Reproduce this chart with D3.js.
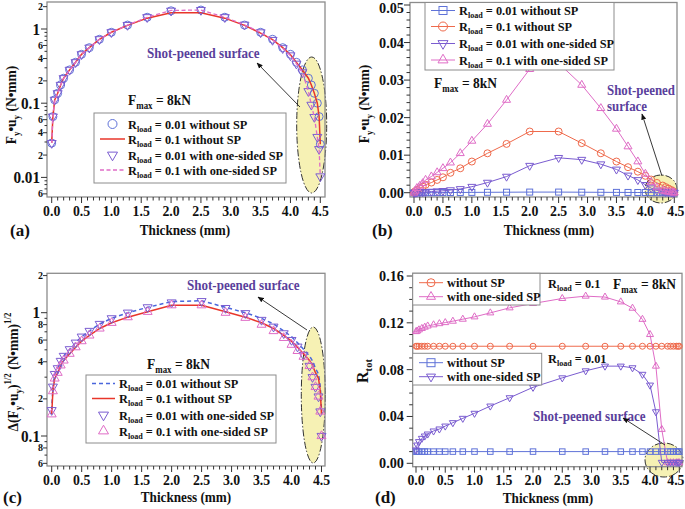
<!DOCTYPE html>
<html><head><meta charset="utf-8">
<script src="https://cdn.jsdelivr.net/npm/d3@7"></script>
<style>body{margin:0;background:#fff}svg{display:block}</style>
</head><body><svg id="c" width="685" height="509"></svg>
<script>
// ---------------- DATA ----------------
const thickness = [0,0.02,0.05,0.1,0.15,0.2,0.3,0.4,0.5,0.63,0.8,1.0,1.27,1.6,2.0,2.5,2.9,3.23,3.5,3.7,3.87,4.0,4.1,4.2,4.3,4.35,4.4,4.45,4.48,4.5];
const xTickLabels = ["0.0","0.5","1.0","1.5","2.0","2.5","3.0","3.5","4.0","4.5"];

// (a) Fy*uy, log scale
const aR001noSP = [0.029,0.066,0.111,0.136,0.176,0.217,0.281,0.356,0.456,0.56,0.727,0.903,1.13,1.44,1.76,1.80,1.44,1.13,0.903,0.727,0.56,0.456,0.356,0.281,0.217,0.176,0.136,0.100,0.066,0.028];
const aR01noSP  = [0.029,0.066,0.111,0.136,0.176,0.217,0.281,0.356,0.456,0.56,0.727,0.903,1.12,1.40,1.66,1.66,1.40,1.12,0.88,0.72,0.56,0.45,0.355,0.28,0.217,0.176,0.136,0.100,0.066,0.028];
const aR001SP   = [0.029,0.066,0.111,0.136,0.176,0.217,0.281,0.356,0.456,0.56,0.727,0.903,1.13,1.44,1.76,1.80,1.44,1.14,0.90,0.71,0.55,0.44,0.34,0.26,0.145,0.095,0.065,0.035,0.024,0.0103];
const aR01SP    = [0.029,0.066,0.111,0.136,0.176,0.217,0.281,0.356,0.456,0.56,0.727,0.903,1.13,1.44,1.78,1.80,1.44,1.14,0.90,0.71,0.55,0.44,0.34,0.26,0.145,0.095,0.065,0.035,0.024,0.0103];

// (b) Fy*uy, linear scale
const bR001noSP = [0,0.000002,0.000005,0.000009,0.000013,0.000017,0.000025,0.000033,0.000041,0.000052,0.000065,0.000083,0.000105,0.00013,0.000163,0.000163,0.000132,0.000105,0.000083,0.000067,0.000055,0.000045,0.000035,0.000026,0.000018,0.000014,0.00001,0.000005,0.000002,0];
const bR01noSP  = [0,0.0004,0.0007,0.0012,0.0016,0.0021,0.0027,0.0034,0.0041,0.0053,0.0065,0.0083,0.0105,0.013,0.0163,0.0163,0.0132,0.0105,0.0083,0.0068,0.0056,0.0045,0.0035,0.0026,0.0019,0.0015,0.0011,0.0007,0.0004,0];
const bR001SP   = [0,0.00002,0.00005,0.0001,0.00015,0.0002,0.0003,0.0004,0.0005,0.0007,0.001,0.0016,0.0027,0.0043,0.0072,0.0093,0.0088,0.0076,0.0062,0.0046,0.0034,0.0021,0.0012,0.0006,0.0003,0.0002,0.0001,0.00005,0.00002,0];
const bR01SP    = [0,0.0005,0.0012,0.0018,0.0025,0.0034,0.0043,0.0054,0.0065,0.008,0.0105,0.0138,0.0183,0.0247,0.0329,0.0345,0.0287,0.0225,0.017,0.0123,0.0083,0.005,0.0028,0.0014,0.0006,0.0004,0.0002,0.0001,0.00005,0];
const bTickLabels = ["0.00","0.01","0.02","0.03","0.04","0.05"];

// (c) delta(Fy*uy)^1/2, log scale
const cR001noSP = [0.162,0.251,0.318,0.354,0.406,0.446,0.505,0.571,0.639,0.711,0.81,0.90,1.0,1.105,1.23,1.25,1.105,1.0,0.90,0.81,0.711,0.639,0.571,0.505,0.446,0.406,0.354,0.318,0.251,0.162];
const cR01noSP  = [0.150,0.231,0.293,0.326,0.374,0.41,0.465,0.525,0.588,0.654,0.745,0.828,0.92,1.017,1.15,1.15,1.017,0.92,0.828,0.745,0.654,0.588,0.525,0.465,0.41,0.374,0.326,0.293,0.231,0.150];
const cR001SP   = [0.162,0.251,0.318,0.354,0.406,0.446,0.505,0.571,0.639,0.711,0.81,0.90,1.0,1.105,1.21,1.24,1.09,0.99,0.873,0.77,0.68,0.60,0.53,0.454,0.37,0.30,0.25,0.209,0.158,0.10];
const cR01SP    = [0.150,0.231,0.293,0.326,0.374,0.41,0.465,0.525,0.588,0.654,0.745,0.828,0.92,1.017,1.15,1.15,1.0,0.91,0.80,0.71,0.625,0.55,0.49,0.44,0.37,0.30,0.25,0.209,0.158,0.10];

// (d) R_tot, linear scale
const dR01noSP  = thickness.map(() => 0.1);
const dR001noSP = thickness.map(() => 0.01);
const dR01SP    = [0.1125,0.113,0.114,0.1152,0.1163,0.1173,0.1183,0.1193,0.1202,0.1214,0.1231,0.1251,0.1285,0.1328,0.1365,0.1408,0.1428,0.142,0.1379,0.1325,0.123,0.110,0.083,0.029,0.0005,0.0005,0.0005,0.0005,0.0005,0.0005];
const dR001SP   = [0.0114,0.0156,0.0185,0.0213,0.0233,0.025,0.0276,0.0293,0.0318,0.0347,0.0384,0.0427,0.0489,0.056,0.0649,0.073,0.079,0.083,0.083,0.0816,0.076,0.0668,0.044,0.0008,0.0008,0.0008,0.0008,0.0008,0.0008,0.0008];
const dTickLabels = ["0.00","0.04","0.08","0.12","0.16"];

// ---------------- STYLE ----------------
const FONT = '"Liberation Serif","Times New Roman",serif';
const C = {blue:"#5f72d8", red:"#e8362a", redM:"#ef6a4c", purple:"#7a5cd0", pink:"#df6cc6", annot:"#5a3f9c", frame:"#8c8c8c", tick:"#333"};
const LEG = 12.3;
const svg = d3.select("#c");
const defs = svg.append("defs");
defs.append("marker").attr("id","ah").attr("viewBox","0 0 10 10").attr("refX",9).attr("refY",5)
  .attr("markerWidth",7).attr("markerHeight",7).attr("orient","auto-start-reverse")
  .append("path").attr("d","M0,1L10,5L0,9Z").attr("fill","#111");

function rich(g, x, y, parts, o = {}) {
  const size = o.size || 14;
  const t = g.append("text")
    .attr("transform", `translate(${x},${y})${o.rot ? ` rotate(${o.rot})` : ""}${o.sx ? ` scale(${o.sx},1)` : ""}`)
    .attr("text-anchor", o.anchor || "start").attr("font-size", size)
    .attr("fill", o.fill || "#111").attr("font-weight", "bold").attr("font-family", FONT);
  let shift = 0;
  parts.forEach(p => {
    const [s, k] = Array.isArray(p) ? p : [p, "n"];
    const ts = t.append("tspan").text(s);
    const target = k === "sub" ? 0.28 : k === "sup" ? -0.45 : 0;
    const dy = (target - shift) * size;
    if (dy) ts.attr("dy", dy);
    shift = target;
    if (k !== "n") ts.attr("font-size", size * 0.66);
  });
  return t;
}
function triPath(s, down) {
  const h = s * 0.866;
  return down ? `M${-s/2},${-h/3}L${s/2},${-h/3}L0,${2*h/3}Z` : `M${-s/2},${h/3}L${s/2},${h/3}L0,${-2*h/3}Z`;
}
function marker(g, kind, cx, cy, s, color) {
  if (kind === "circle") g.append("circle").attr("cx",cx).attr("cy",cy).attr("r",s/2).attr("fill","none").attr("stroke",color).attr("stroke-width",1);
  else if (kind === "square") g.append("rect").attr("x",cx-s/2).attr("y",cy-s/2).attr("width",s).attr("height",s).attr("fill","none").attr("stroke",color).attr("stroke-width",1);
  else g.append("path").attr("transform",`translate(${cx},${cy})`).attr("d",triPath(s, kind==="down")).attr("fill","none").attr("stroke",color).attr("stroke-width",1);
}
function series(g, x, y, vals, o) {
  const pts = thickness.map((t, i) => [x(t), y(vals[i])]);
  if (o.line) g.append("path").attr("d", d3.line()(pts)).attr("fill","none").attr("stroke",o.lineColor||o.color)
      .attr("stroke-width",o.lw||1).attr("stroke-dasharray",o.dash||null);
  if (o.marker) pts.forEach(p => marker(g, o.marker, p[0], p[1], o.ms||7, o.color));
}
function frame(f) {
  svg.append("rect").attr("x",f.l).attr("y",f.t).attr("width",f.r-f.l).attr("height",f.b-f.t)
    .attr("fill","none").attr("stroke",C.frame).attr("stroke-width",1.3);
}
function xAxis(f, x, labY) {
  const g = svg.append("g");
  d3.range(0, 46).forEach(i => {
    const v = i / 10, major = i % 5 === 0;
    g.append("line").attr("x1",x(v)).attr("x2",x(v)).attr("y1",f.b).attr("y2",f.b+(major?6:3.5)).attr("stroke",C.tick).attr("stroke-width",1);
  });
  xTickLabels.forEach((lab, i) => {
    const px = x(i*0.5);
    if (px + 10 > 684) rich(g, 684.5, labY, [lab], {anchor:"end", size:15, sx:0.92});
    else rich(g, px, labY, [lab], {anchor:"middle", size:15, sx:0.92});
  });
}
function yLinAxis(f, y, majors, labels, minorStep, labX) {
  const g = svg.append("g");
  const lo = majors[0], hi = majors[majors.length-1];
  d3.range(Math.round((hi-lo)/minorStep)+1).forEach(i => {
    const v = lo + i*minorStep;
    const isMaj = majors.some(m => Math.abs(m - v) < minorStep/10);
    g.append("line").attr("x1",f.l).attr("x2",f.l-(isMaj?6:3.5)).attr("y1",y(v)).attr("y2",y(v)).attr("stroke",C.tick);
  });
  majors.forEach((m, i) => rich(g, labX, Math.max(y(m)+5, 13), [labels[i]], {anchor:"end", size:15, sx:0.95}));
}
function yLogAxis(f, y, majors, majorLabels, minorLab, minorLabText, minorPlain) {
  const g = svg.append("g");
  majors.forEach((m, i) => {
    g.append("line").attr("x1",f.l).attr("x2",f.l-6).attr("y1",y(m)).attr("y2",y(m)).attr("stroke",C.tick);
    rich(g, f.l-7, y(m)+5.5, [majorLabels[i]], {anchor:"end", size:16, sx:0.95});
  });
  minorLab.forEach((m, i) => {
    g.append("line").attr("x1",f.l).attr("x2",f.l-4).attr("y1",y(m)).attr("y2",y(m)).attr("stroke",C.tick);
    rich(g, f.l-4, y(m)+3.5, [minorLabText[i]], {anchor:"end", size:10});
  });
  minorPlain.forEach(m => g.append("line").attr("x1",f.l).attr("x2",f.l-2.5).attr("y1",y(m)).attr("y2",y(m)).attr("stroke",C.tick));
}
function legendBox(b) {
  svg.append("rect").attr("x",b.l).attr("y",b.t).attr("width",b.r-b.l).attr("height",b.b-b.t)
    .attr("fill","#fff").attr("stroke",C.frame).attr("stroke-width",1);
}
function legendRow(g, x0, x1, yy, o, parts, tx) {
  if (o.line) g.append("line").attr("x1",x0).attr("x2",x1).attr("y1",yy).attr("y2",yy).attr("stroke",o.lineColor||o.color).attr("stroke-width",o.lw||1).attr("stroke-dasharray",o.dash||null);
  if (o.marker) marker(g, o.marker, (x0+x1)/2, yy, o.ms||9, o.color);
  rich(g, tx, yy+4.5, parts, {size:LEG});
}
function ellipse(cx, cy, rx, ry) {
  svg.append("ellipse").attr("cx",cx).attr("cy",cy).attr("rx",rx).attr("ry",ry)
    .attr("fill","#f6f1b4").attr("stroke","#333").attr("stroke-width",1).attr("stroke-dasharray","7,2,1.5,2");
}
function arrow(x1,y1,x2,y2){
  svg.append("line").attr("x1",x1).attr("y1",y1).attr("x2",x2).attr("y2",y2).attr("stroke","#222").attr("stroke-width",0.9).attr("marker-end","url(#ah)");
}
const Rl = (rest) => ["R", ["load","sub"], rest];
const Fmax = ["F", ["max","sub"], " = 8kN"];

// ================= PANEL (a) =================
{
  const f = {l:47, t:2, r:325, b:197};
  const x = d3.scaleLinear([0,4.5],[51.7,320.3]);
  const y = d3.scaleLog([0.01,1],[177.4,29]);
  ellipse(311.7,125,15,68);
  frame(f);
  xAxis(f, x, 216);
  yLogAxis(f, y, [0.01,0.1,1], ["0.01","0.1","1"],
    [0.006,0.02,0.04,0.06,0.2,0.4,0.6,2], ["6","2","4","6","2","4","6","2"],
    [0.007,0.008,0.009,0.03,0.05,0.07,0.08,0.09,0.3,0.5,0.7,0.8,0.9]);
  const g = svg.append("g");
  series(g, x, y, aR001noSP, {marker:"circle", color:C.blue, ms:8});
  series(g, x, y, aR01noSP, {line:true, color:C.red, lw:1.5});
  series(g, x, y, aR001SP, {marker:"down", color:C.purple, ms:9});
  series(g, x, y, aR01SP, {line:true, color:C.pink, lw:1.3, dash:"4,2.5"});
  legendBox({l:94, t:113, r:286, b:183});
  const lg = svg.append("g");
  legendRow(lg, 100, 125, 124, {marker:"circle", color:C.blue, ms:9}, Rl(" = 0.01 without SP"), 128);
  legendRow(lg, 100, 125, 139, {line:true, color:C.red, lw:1.5}, Rl(" = 0.1 without SP"), 128);
  legendRow(lg, 100, 125, 155, {marker:"down", color:C.purple, ms:10}, Rl(" = 0.01 with one-sided SP"), 128);
  legendRow(lg, 100, 125, 170, {line:true, color:C.pink, lw:1.3, dash:"4,2.5"}, Rl(" = 0.1 with one-sided SP"), 128);
  rich(svg, 128, 105, Fmax, {size:15, sx:0.9});
  rich(svg, 147, 58, ["Shot-peened surface"], {size:15, sx:0.87, fill:C.annot});
  arrow(300,107,257,63);
  rich(svg, 16, 105, ["F", ["y","sub"], "•u", ["y","sub"], " (N•mm)"], {rot:-90, anchor:"middle", size:15, sx:0.9});
  rich(svg, 185, 235, ["Thickness (mm)"], {anchor:"middle", size:15, sx:0.88});
  rich(svg, 10, 236, ["(a)"], {size:17});
}

// ================= PANEL (b) =================
{
  const f = {l:410, t:2.5, r:677, b:197};
  const x = d3.scaleLinear([0,4.5],[414,674.3]);
  const y = d3.scaleLinear([0,0.05],[192.7,5]);
  ellipse(661,189,16,14);
  frame(f);
  xAxis(f, x, 216);
  yLinAxis(f, y, [0,0.01,0.02,0.03,0.04,0.05], bTickLabels, 0.002, 404);
  const g = svg.append("g");
  series(g, x, y, bR001noSP, {line:true, marker:"square", color:C.blue, ms:6});
  series(g, x, y, bR01noSP, {line:true, marker:"circle", color:C.redM, ms:7});
  series(g, x, y, bR001SP, {line:true, marker:"down", color:C.purple, ms:8});
  series(g, x, y, bR01SP, {line:true, marker:"up", color:C.pink, ms:8});
  legendBox({l:425, t:2.5, r:614, b:70});
  const lg = svg.append("g");
  legendRow(lg, 431, 455, 10.5, {line:true, marker:"square", color:C.blue, ms:8}, Rl(" = 0.01 without SP"), 459);
  legendRow(lg, 431, 455, 26.5, {line:true, marker:"circle", color:C.redM, ms:9}, Rl(" = 0.1 without SP"), 459);
  legendRow(lg, 431, 455, 43.5, {line:true, marker:"down", color:C.purple, ms:10}, Rl(" = 0.01 with one-sided SP"), 459);
  legendRow(lg, 431, 455, 60, {line:true, marker:"up", color:C.pink, ms:10}, Rl(" = 0.1 with one-sided SP"), 459);
  rich(svg, 434, 88, Fmax, {size:15, sx:0.9});
  rich(svg, 607, 95, ["Shot-peened"], {size:15, sx:0.86, fill:C.annot});
  rich(svg, 607, 111, ["surface"], {size:15, sx:0.86, fill:C.annot});
  arrow(662,176,642,114);
  rich(svg, 369, 104, ["F", ["y","sub"], "•u", ["y","sub"], " (N•mm)"], {rot:-90, anchor:"middle", size:15, sx:0.9});
  rich(svg, 549, 235, ["Thickness (mm)"], {anchor:"middle", size:15, sx:0.88});
  rich(svg, 372, 236, ["(b)"], {size:17});
}

// ================= PANEL (c) =================
{
  const f = {l:47, t:273.3, r:325, b:466};
  const x = d3.scaleLinear([0,4.5],[51.7,321.5]);
  const y = d3.scaleLog([0.1,1],[436,312.7]);
  ellipse(313.3,395,12,68);
  frame(f);
  xAxis(f, x, 485);
  yLogAxis(f, y, [0.1,1], ["0.1","1"],
    [0.06,0.08,0.2,0.4,0.6,0.8,2], ["6","8","2","4","6","8","2"],
    [0.07,0.09,0.3,0.5,0.7,0.9]);
  const g = svg.append("g");
  series(g, x, y, cR001noSP, {line:true, color:"#4a66dc", lw:1.5, dash:"4,3"});
  series(g, x, y, cR01noSP, {line:true, color:C.red, lw:1.5});
  series(g, x, y, cR001SP, {marker:"down", color:C.purple, ms:9});
  series(g, x, y, cR01SP, {marker:"up", color:C.pink, ms:9});
  legendBox({l:86, t:375, r:276, b:443});
  const lg = svg.append("g");
  legendRow(lg, 92, 115, 383.5, {line:true, color:"#4a66dc", lw:1.5, dash:"4,3"}, Rl(" = 0.01 without SP"), 119);
  legendRow(lg, 92, 115, 398.5, {line:true, color:C.red, lw:1.5}, Rl(" = 0.1 without SP"), 119);
  legendRow(lg, 92, 115, 415, {marker:"down", color:C.purple, ms:10}, Rl(" = 0.01 with one-sided SP"), 119);
  legendRow(lg, 92, 115, 431, {marker:"up", color:C.pink, ms:10}, Rl(" = 0.1 with one-sided SP"), 119);
  rich(svg, 147, 368.5, Fmax, {size:15, sx:0.9});
  rich(svg, 187, 290, ["Shot-peened surface"], {size:15, sx:0.87, fill:C.annot});
  arrow(307,330,258,297);
  rich(svg, 18, 372, ["Δ(F", ["y","sub"], "•u", ["y","sub"], ")", ["1/2","sup"], " (N•mm)", ["1/2","sup"]], {rot:-90, anchor:"middle", size:15, sx:0.9});
  rich(svg, 186, 502, ["Thickness (mm)"], {anchor:"middle", size:15, sx:0.88});
  rich(svg, 3, 503, ["(c)"], {size:17});
}

// ================= PANEL (d) =================
{
  const f = {l:412.7, t:273.3, r:682, b:466.7};
  const x = d3.scaleLinear([0,4.5],[416,679.3]);
  const y = d3.scaleLinear([0,0.16],[463.3,276]);
  ellipse(664,460,19,17);
  frame(f);
  xAxis(f, x, 485);
  yLinAxis(f, y, [0,0.04,0.08,0.12,0.16], dTickLabels, 0.01, 404);
  const g = svg.append("g");
  series(g, x, y, dR01noSP, {line:true, marker:"circle", color:C.redM, ms:6});
  series(g, x, y, dR01SP, {line:true, marker:"up", color:C.pink, ms:7});
  series(g, x, y, dR001noSP, {line:true, marker:"square", color:C.blue, ms:5.5});
  series(g, x, y, dR001SP, {line:true, marker:"down", color:C.purple, ms:7});
  legendBox({l:412.7, t:273.3, r:540, b:305});
  legendBox({l:412.7, t:353.3, r:541.7, b:385});
  const lg = svg.append("g");
  legendRow(lg, 419, 443, 282.7, {line:true, marker:"circle", color:C.redM, ms:8}, ["without SP"], 447);
  legendRow(lg, 419, 443, 296.7, {line:true, marker:"up", color:C.pink, ms:9}, ["with one-sided SP"], 447);
  legendRow(lg, 419, 443, 362.7, {line:true, marker:"square", color:C.blue, ms:8}, ["without SP"], 447);
  legendRow(lg, 419, 443, 376.7, {line:true, marker:"down", color:C.purple, ms:9}, ["with one-sided SP"], 447);
  rich(svg, 548, 288, Rl(" = 0.1"), {size:LEG});
  rich(svg, 613, 289, Fmax, {size:15, sx:0.9});
  rich(svg, 548, 363, Rl(" = 0.01"), {size:LEG});
  rich(svg, 533, 421, ["Shot-peened surface"], {size:15, sx:0.87, fill:C.annot});
  arrow(665,445,623,418);
  rich(svg, 368, 371, ["R", ["tot","sub"]], {rot:-90, anchor:"middle", size:16});
  rich(svg, 548, 503, ["Thickness (mm)"], {anchor:"middle", size:15, sx:0.88});
  rich(svg, 375, 503, ["(d)"], {size:17});
}
</script></body></html>
